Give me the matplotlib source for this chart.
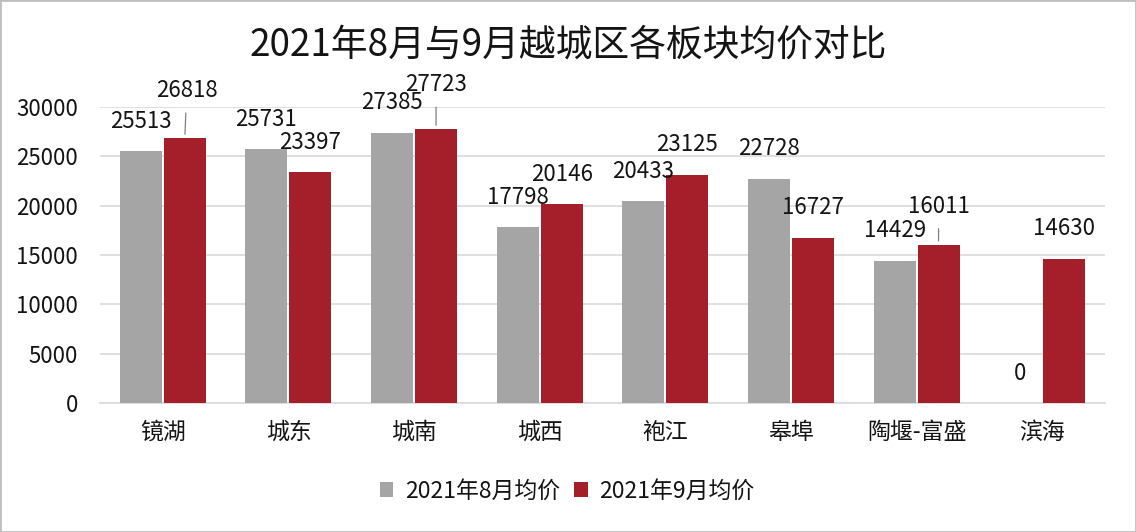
import matplotlib
matplotlib.use("Agg")
import matplotlib.pyplot as plt
from matplotlib.patches import Rectangle
import numpy as np

plt.rcParams['font.family'] = ['Noto Sans CJK SC', 'DejaVu Sans']

categories = ["镜湖", "城东", "城南", "城西", "袍江", "皋埠", "陶堰-富盛", "滨海"]
aug_values = [25513, 25731, 27385, 17798, 20433, 22728, 14429, 0]
sep_values = [26818, 23397, 27723, 20146, 23125, 16727, 16011, 14630]
series_names = ["2021年8月均价", "2021年9月均价"]
title = "2021年8月与9月越城区各板块均价对比"
yticks = [0, 5000, 10000, 15000, 20000, 25000, 30000]

# label offsets (pixels above bar top) – style only
aug_label_dy = [30, 30, 30, 30, 30, 30, 30, 30]
sep_label_dy = [48, 30, 45, 30, 30, 30, 39, 30]
sep_label_dx = [2, 0, 0, 0, 0, 0, 0, 0]
sep_leader = [True, False, True, False, False, False, True, False]

GRAY = "#A5A5A5"
RED = "#A51F2B"
TXT = "#141414"

W, H = 1136, 532
fig = plt.figure(figsize=(W / 100, H / 100), dpi=100)
fig.patch.set_facecolor("white")
fig.patches.append(Rectangle((0, 0), 1, 1, transform=fig.transFigure,
                             fill=False, edgecolor="#BFBFBF", lw=2))

ax = fig.add_axes([100 / W, 1 - 403 / H, (1105 - 100) / W, (403 - 107) / H])
x = np.arange(len(categories))
bw = 0.334
b1 = ax.bar(x - bw / 2 - 0.008, aug_values, bw, color=GRAY, label=series_names[0], zorder=3)
b2 = ax.bar(x + bw / 2 + 0.008, sep_values, bw, color=RED, label=series_names[1], zorder=3)

ax.set_xlim(-0.5, len(categories) - 0.5)
ax.set_ylim(0, 30000)
ax.set_yticks(yticks)
ax.set_yticklabels([str(v) for v in yticks], fontsize=16, color=TXT)
ax.set_xticks(x)
ax.set_xticklabels(categories, fontsize=16.5, color=TXT)
ax.tick_params(axis='both', length=0)
ax.tick_params(axis='y', pad=16)
ax.tick_params(axis='x', pad=13)
ax.grid(axis='y', color="#D9D9D9", lw=1.2, zorder=0)
for s in ["top", "right", "left"]:
    ax.spines[s].set_visible(False)
ax.spines["bottom"].set_color("#D9D9D9")
ax.spines["bottom"].set_linewidth(1.2)

def px2pt(p):
    return p * 72 / 100

for rect, v, dy in zip(b1, aug_values, aug_label_dy):
    ax.annotate(str(v), (rect.get_x() + rect.get_width() / 2, v),
                xytext=(0, px2pt(dy)), textcoords="offset points",
                ha="center", va="center", fontsize=16, color=TXT, zorder=5)

for rect, v, dy, dx, lead in zip(b2, sep_values, sep_label_dy, sep_label_dx, sep_leader):
    kw = {}
    if lead:
        kw["arrowprops"] = dict(arrowstyle="-", color="#7F7F7F", lw=0.9,
                                shrinkA=6, shrinkB=3)
    ax.annotate(str(v), (rect.get_x() + rect.get_width() / 2, v),
                xytext=(px2pt(dx), px2pt(dy)), textcoords="offset points",
                ha="center", va="center", fontsize=16, color=TXT, zorder=5, **kw)

fig.text(0.5, 1 - 45 / H, title, ha="center", va="center", fontsize=26.5, color=TXT)

fig.legend(handles=[b1, b2], labels=series_names, loc="center",
           bbox_to_anchor=(567 / W, 1 - 491 / H), ncol=2, frameon=False,
           fontsize=16.5, handlelength=0.6, handleheight=0.6,
           handletextpad=0.5, columnspacing=0.6, labelcolor=TXT)

fig.savefig("out.png", dpi=100, facecolor="white")
